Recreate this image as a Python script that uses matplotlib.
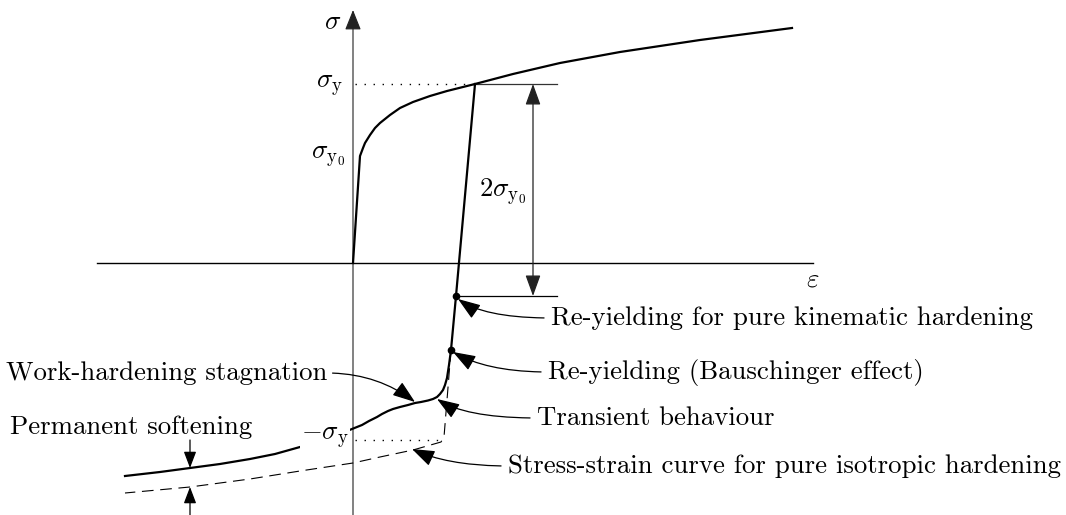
#!/usr/bin/env python3
# -*- coding: utf-8 -*-
"""
Schematic cyclic stress-strain curve: kinematic vs. isotropic hardening
"""

import matplotlib
matplotlib.use('Agg')
import matplotlib.pyplot as plt
from matplotlib.patches import FancyArrowPatch

plt.rcParams['mathtext.fontset'] = 'cm'
plt.rcParams['font.family'] = ['cmr10', 'DejaVu Serif']
plt.rcParams['axes.unicode_minus'] = False

FONT_SIZE = 19.3

# Drawing units: origin at the axes crossing, sigma_y0 = 106
SIGMA_Y0 = 106
SIGMA_Y = 179

# Monotonic loading: elastic part, then hardening up to the end of the curve
LOAD_EPS = [0, 7, 10, 12, 17, 22, 27, 37, 47, 60, 77, 94, 122, 160, 207, 267, 347, 439]
LOAD_SIG = [0, 107, 115, 120, 128, 135, 140, 148, 155, 161, 167, 172, 179, 189, 200, 211, 223, 235]

# Reverse loading after unloading at sigma_y (real material behaviour)
REV_EPS = [122, 103, 98, 96, 94, 92, 90, 87, 84, 80, 75, 68, 62, 55, 47, 40, 35, 29,
           24, 16, 9, -6, -33, -53, -78, -103, -133, -163, -193, -228]
REV_SIG = [179, -33, -87, -102, -115, -122, -127, -131, -134, -136, -137.5, -139, -140,
           -142, -144, -146, -148, -151, -154, -158, -162, -168, -178, -184, -191, -196,
           -201, -205, -209, -213]

# Reverse loading for pure isotropic hardening
ISO_EPS = [98, 94, 91, 88, 60, 27, 0, -53, -103, -163, -228]
ISO_SIG = [-87, -137, -174, -179, -187, -194, -200, -208, -216, -224, -230]

# Re-yielding points
KIN_YIELD = (103, -33)
BAUSCH_YIELD = (98, -87)

# Callouts: text, text anchor, arrow tip, end angle of the leader
CALLOUTS = [
    ('Re-yielding for pure kinematic hardening', (198, -55), (105, -36), -35),
    ('Re-yielding (Bauschinger effect)', (195, -109), (100, -89), -30),
    ('Transient behaviour', (184, -155), (84, -136), -33),
    ('Stress-strain curve for pure isotropic hardening', (155, -203), (59, -186), -25),
]

HEAD = '-|>,head_length=1.4,head_width=0.5'

fig = plt.figure(figsize=(10.66, 5.15), dpi=100)
ax = fig.add_axes([0, 0, 1, 1])
ax.set_xlim(-353, 713)
ax.set_ylim(-252, 263)
ax.axis('off')

# Axes
ax.plot([-256, 460], [0, 0], color='black', lw=1.0, zorder=1)
ax.add_patch(FancyArrowPatch((0, -252), (0, 253),
                             arrowstyle='-|>,head_length=1.25,head_width=0.5',
                             mutation_scale=10, color='#222222', lw=0.8,
                             shrinkA=0, shrinkB=0, zorder=1))
ax.text(-20, 241, r'$\sigma$', fontsize=FONT_SIZE, ha='center', va='center')
ax.text(460, -17, r'$\varepsilon$', fontsize=FONT_SIZE, ha='center', va='center')

# Curves
ax.plot(LOAD_EPS, LOAD_SIG, color='black', lw=1.6, solid_joinstyle='round', zorder=3)
ax.plot(REV_EPS, REV_SIG, color='black', lw=1.6, solid_joinstyle='round', zorder=3)
ax.plot(ISO_EPS, ISO_SIG, color='black', lw=0.8, linestyle=(0, (10.5, 6)), zorder=2)

# Dotted level lines at +/- sigma_y
ax.plot([2, LOAD_EPS[12]], [SIGMA_Y, SIGMA_Y], color='black', lw=1.0,
        linestyle=(0, (1, 5.5)), zorder=2)
ax.plot([2, ISO_EPS[3]], [-SIGMA_Y + 2, -SIGMA_Y + 2], color='black', lw=1.0,
        linestyle=(0, (1, 5.5)), zorder=2)

ax.text(-10, SIGMA_Y - 2, r'$\sigma_{\mathrm{y}}$', fontsize=FONT_SIZE, ha='right', va='center')
ax.text(-8, SIGMA_Y0, r'$\sigma_{\mathrm{y}_0}$', fontsize=FONT_SIZE, ha='right', va='center')
ax.text(-4, -SIGMA_Y + 4, r'$-\sigma_{\mathrm{y}}$', fontsize=FONT_SIZE, ha='right', va='center',
        bbox=dict(facecolor='white', edgecolor='none', pad=1), zorder=4)

# Elastic range dimension: 2 sigma_y0
dim_x = 180
ax.plot([LOAD_EPS[12], 204], [SIGMA_Y, SIGMA_Y], color='#333333', lw=0.9, zorder=2)
ax.plot([KIN_YIELD[0], 204], [KIN_YIELD[1], KIN_YIELD[1]], color='black', lw=0.9, zorder=2)
ax.add_patch(FancyArrowPatch((dim_x, KIN_YIELD[1]), (dim_x, SIGMA_Y),
                             arrowstyle='<|-|>,head_length=1.3,head_width=0.47',
                             mutation_scale=10, color='#222222', lw=0.9,
                             shrinkA=0, shrinkB=0, zorder=2))
ax.text(150, 71, r'$2\sigma_{\mathrm{y}_0}$', fontsize=FONT_SIZE, ha='center', va='center')

# Re-yielding dots
for pt in (KIN_YIELD, BAUSCH_YIELD):
    ax.plot(*pt, 'o', color='black', ms=4.5, zorder=5)

# Callouts to the right of the curve
for label, txt_pos, tip, angle_b in CALLOUTS:
    ax.annotate(label, xy=tip, xytext=txt_pos, fontsize=FONT_SIZE,
                ha='left', va='center',
                arrowprops=dict(arrowstyle=HEAD, mutation_scale=10, color='black', lw=0.9,
                                connectionstyle='angle3,angleA=0,angleB={}'.format(angle_b),
                                relpos=(0, 0.5), shrinkA=3, shrinkB=0),
                zorder=4)

ax.annotate('Work-hardening stagnation', xy=(62, -139), xytext=(-26, -110),
            fontsize=FONT_SIZE, ha='right', va='center',
            arrowprops=dict(arrowstyle=HEAD, mutation_scale=10, color='black', lw=0.9,
                            connectionstyle='angle3,angleA=0,angleB=-37',
                            relpos=(1, 0.5), shrinkA=2, shrinkB=0),
            zorder=4)

# Permanent softening between the two curves
soft_x = -163
ax.text(-343, -164, 'Permanent softening', fontsize=FONT_SIZE, ha='left', va='center')
ax.add_patch(FancyArrowPatch((soft_x, -177), (soft_x, -205),
                             arrowstyle='-|>,head_length=1.0,head_width=0.38',
                             mutation_scale=10, color='black', lw=0.9,
                             shrinkA=0, shrinkB=0, zorder=3))
ax.add_patch(FancyArrowPatch((soft_x, -252), (soft_x, -224),
                             arrowstyle='-|>,head_length=1.0,head_width=0.38',
                             mutation_scale=10, color='black', lw=0.9,
                             shrinkA=0, shrinkB=0, zorder=3))

plt.savefig('out.png', dpi=100)
